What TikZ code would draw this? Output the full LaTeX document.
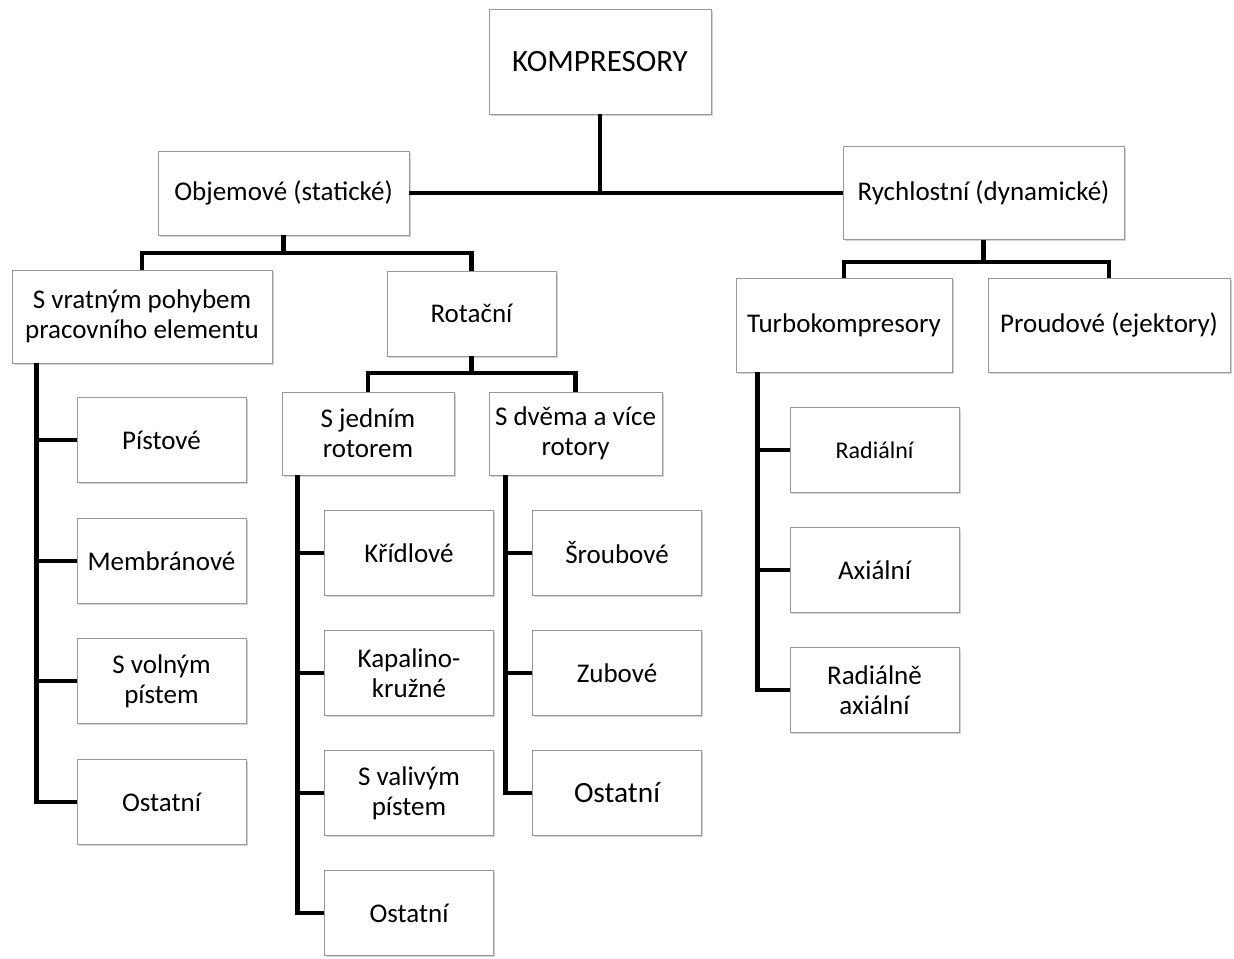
\documentclass[tikz,border=0pt]{standalone}
\usepackage{fontspec}
\setmainfont{Carlito}
\usepackage{tikz}
\usetikzlibrary{positioning,shadows,calc}
\usepackage{xcolor}
\newcommand{\txt}[2]{\fontsize{#1}{#2}\selectfont}

\begin{document}
\begin{tikzpicture}[x=0.5pt,y=-0.5pt,
  box/.style={draw=black!40,fill=white,align=center,inner sep=0pt,
    drop shadow={shadow xshift=0.9pt,shadow yshift=-0.9pt,opacity=0.35},
    font=\txt{13.5}{15}},
  leaf/.style={box,minimum width=84.5pt,minimum height=42.5pt},
  conn/.style={line width=2.4pt,line join=miter}]
  \useasboundingbox (0,0) rectangle (1234,958);

  % Top levels
  \node[box,minimum width=111pt,minimum height=52.5pt,font=\txt{15.5}{18}] (komp) at (600,61.5) {KOMPRESORY};
  \node[box,minimum width=125.5pt,minimum height=42pt] (objem) at (283.5,193) {Objemové (statické)};
  \node[box,minimum width=140.5pt,minimum height=46.5pt] (rychl) at (983.5,193) {Rychlostní (dynamické)};

  \node[box,minimum width=130pt,minimum height=46.5pt] (vrat) at (142,316.5) {S vratným pohybem\\pracovního elementu};
  \node[box,minimum width=84.5pt,minimum height=42.5pt] (rot) at (471.5,313.5) {Rotační};
  \node[box,minimum width=86pt,minimum height=41.5pt] (jed) at (368,433.5) {S jedním\\rotorem};
  \node[box,minimum width=86.5pt,minimum height=41.5pt] (dve) at (575.5,433.5) {S dvěma a více\\rotory};
  \node[box,minimum width=108pt,minimum height=47pt] (turbo) at (844,325) {Turbokompresory};
  \node[box,minimum width=121pt,minimum height=47pt] (proud) at (1109,325) {Proudové (ejektory)};

  % Leaves
  \foreach \n/\y/\t in {1/440/Pístové, 2/561/Membránové, 3/681/{S volným\\pístem}, 4/802/Ostatní}
    \node[leaf] (vrat\n) at (161.5,\y) {\t};
  \foreach \n/\y/\t in {1/553/Křídlové, 2/673/{Kapalino-\\kružné}, 3/793/{S valivým\\pístem}, 4/913/Ostatní}
    \node[leaf] (jed\n) at (409,\y) {\t};
  \foreach \n/\y/\t in {1/553/Šroubové, 2/673/Zubové}
    \node[leaf] (dve\n) at (617,\y) {\t};
  \node[leaf,font=\txt{14.7}{17}] (dve3) at (617,793) {Ostatní};
  \node[leaf,font=\txt{12}{14}] (turbo1) at (874.5,450) {Radiální};
  \foreach \n/\y/\t in {2/570/Axiální, 3/690/{Radiálně\\axiální}}
    \node[leaf] (turbo\n) at (874.5,\y) {\t};

  % Connectors
  \coordinate (objbar) at (283.5,253);
  \coordinate (rotbar) at (471.5,373);
  \coordinate (rychbar) at (983.5,262);
  \draw[conn] (objem) -- (rychl);
  \draw[conn] (komp) -- (komp |- objem);
  \draw[conn] (objem.south) -- (objbar);
  \draw[conn] (vrat.north) |- (objbar) -| (rot.north);
  \draw[conn] (rot.south) -- (rotbar);
  \draw[conn] (jed.north) |- (rotbar) -| (dve.north);
  \draw[conn] (rychl.south) -- (rychbar);
  \draw[conn] (turbo.north) |- (rychbar) -| (proud.north);

  \foreach \n in {1,...,4}
    \draw[conn] ([xshift=12.5pt]vrat.south west) |- (vrat\n.west);
  \foreach \n in {1,...,4}
    \draw[conn] ([xshift=8pt]jed.south west) |- (jed\n.west);
  \foreach \n in {1,...,3}
    \draw[conn] ([xshift=8.5pt]dve.south west) |- (dve\n.west);
  \foreach \n in {1,...,3}
    \draw[conn] ([xshift=11pt]turbo.south west) |- (turbo\n.west);
\end{tikzpicture}
\end{document}
